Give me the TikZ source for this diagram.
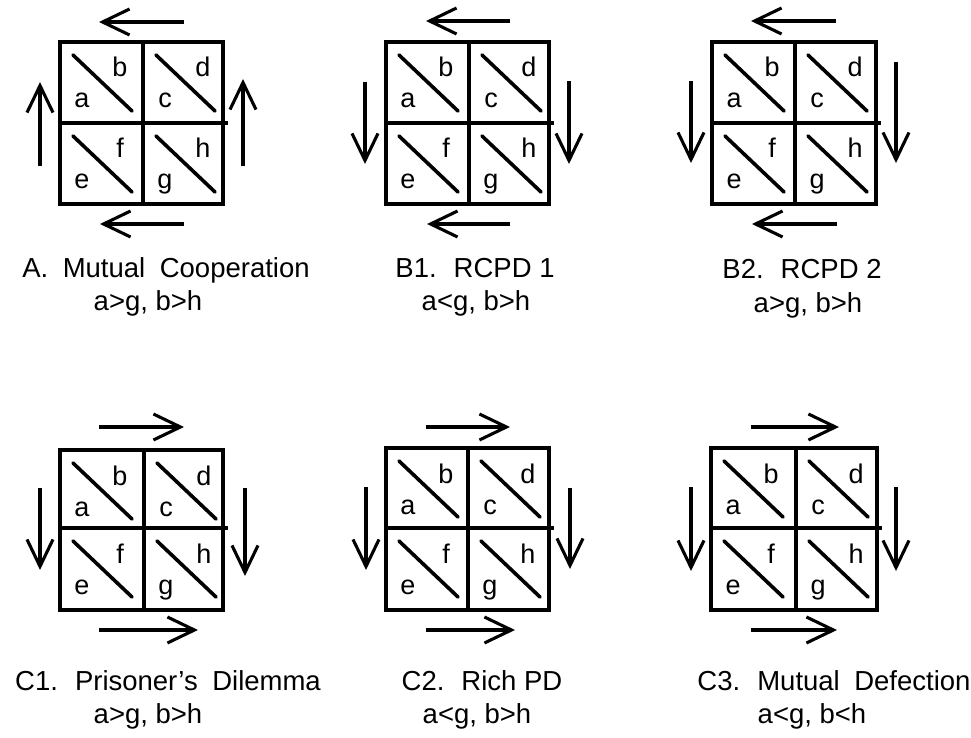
\documentclass[tikz,border=0pt]{standalone}
\usepackage{fontspec}
\setmainfont{Liberation Sans}
\usetikzlibrary{arrows.meta,calc}
\tikzset{
  grid/.style={line width=3.2pt, line cap=rect},
  diag/.style={line width=3.6pt, line cap=round},
  arr/.style={line width=3.1pt, -{Straight Barb[length=27pt,width=26pt]}},
  lbl/.style={anchor=base, inner sep=0pt, font=\fontsize{27}{27}\selectfont},
  captext/.style={anchor=base, inner sep=0pt, font=\fontsize{27.5}{30}\selectfont},
}
\newcommand{\gap}{\hspace{0.25em}}
% #1 prefix, #2 x, #3 y, #4 low label, #5 high label
\newcommand{\celldiag}[5]{%
  \draw[diag] ({#2+13},{#3+13}) -- ({#2+72},{#3+69});
  \node[lbl] (#1-#4) at ({#2+22},{#3+66}) {#4};
  \node[lbl] (#1-#5) at ({#2+60},{#3+35}) {#5};
}
% #1 prefix, #2 left, #3 top, #4 midx, #5 midy, #6 right, #7 bottom
\newcommand{\gamepanel}[7]{%
  \draw[grid] (#2,#3) rectangle (#6,#7);
  \draw[grid] (#4,#3) -- (#4,#7);
  \draw[grid] (#2,#5) -- ({#6+3},#5);
  \celldiag{#1}{#2}{#3}{a}{b}
  \celldiag{#1}{#4}{#3}{c}{d}
  \celldiag{#1}{#2}{#5}{e}{f}
  \celldiag{#1}{#4}{#5}{g}{h}
}
\begin{document}
\begin{tikzpicture}[x=1pt,y=-1pt]
\useasboundingbox (0,0) rectangle (971,738);
\fill[white] (0,0) rectangle (971,738);

% ---------- A ----------
\gamepanel{A}{60}{42}{143}{123}{223}{204}
\coordinate (A-t1) at (184,22); \coordinate (A-t2) at (99,22);
\coordinate (A-b1) at (184,224); \coordinate (A-b2) at (100,224);
\coordinate (A-l1) at (40,166); \coordinate (A-l2) at (40,82);
\coordinate (A-r1) at (243,166); \coordinate (A-r2) at (243,79);
\draw[arr] (A-t1) -- (A-t2);
\draw[arr] (A-b1) -- (A-b2);
\draw[arr] (A-l1) -- (A-l2);
\draw[arr] (A-r1) -- (A-r2);
\node[captext] (A-cap) at (166,277) {A.\gap{} Mutual\gap{} Cooperation};
\node[captext] (A-cond) at (148,310) {a>g, b>h};

% ---------- B1 ----------
\gamepanel{B1}{386}{42}{469}{123}{549}{204}
\coordinate (B1-t1) at (510,21); \coordinate (B1-t2) at (426,21);
\coordinate (B1-b1) at (510,224); \coordinate (B1-b2) at (427,224);
\coordinate (B1-l1) at (365,82); \coordinate (B1-l2) at (365,164);
\coordinate (B1-r1) at (569,81); \coordinate (B1-r2) at (569,164);
\draw[arr] (B1-t1) -- (B1-t2);
\draw[arr] (B1-b1) -- (B1-b2);
\draw[arr] (B1-l1) -- (B1-l2);
\draw[arr] (B1-r1) -- (B1-r2);
\node[captext] (B1-cap) at (475,277) {B1.\gap{} RCPD 1};
\node[captext] (B1-cond) at (476,310) {a<g, b>h};

% ---------- B2 ----------
\gamepanel{B2}{712}{42}{795}{123}{876}{204}
\coordinate (B2-t1) at (836,21); \coordinate (B2-t2) at (751,21);
\coordinate (B2-b1) at (837,224); \coordinate (B2-b2) at (752,224);
\coordinate (B2-l1) at (691,81); \coordinate (B2-l2) at (691,163);
\coordinate (B2-r1) at (896,62); \coordinate (B2-r2) at (896,163);
\draw[arr] (B2-t1) -- (B2-t2);
\draw[arr] (B2-b1) -- (B2-b2);
\draw[arr] (B2-l1) -- (B2-l2);
\draw[arr] (B2-r1) -- (B2-r2);
\node[captext] (B2-cap) at (802,278) {B2.\gap{} RCPD 2};
\node[captext] (B2-cond) at (808,312) {a>g, b>h};

% ---------- C1 ----------
\gamepanel{C1}{60}{450}{144}{528}{223}{610}
\coordinate (C1-t1) at (99,427); \coordinate (C1-t2) at (184,427);
\coordinate (C1-b1) at (99,630); \coordinate (C1-b2) at (198,630);
\coordinate (C1-l1) at (40,488); \coordinate (C1-l2) at (40,570);
\coordinate (C1-r1) at (245,488); \coordinate (C1-r2) at (245,576);
\draw[arr] (C1-t1) -- (C1-t2);
\draw[arr] (C1-b1) -- (C1-b2);
\draw[arr] (C1-l1) -- (C1-l2);
\draw[arr] (C1-r1) -- (C1-r2);
\node[captext] (C1-cap) at (168,690) {C1.\gap{} Prisoner's\gap{} Dilemma};
\node[captext] (C1-cond) at (148,723) {a>g, b>h};

% ---------- C2 ----------
\gamepanel{C2}{386}{448}{468}{528}{549}{610}
\coordinate (C2-t1) at (426,427); \coordinate (C2-t2) at (510,427);
\coordinate (C2-b1) at (426,630); \coordinate (C2-b2) at (515,630);
\coordinate (C2-l1) at (366,487); \coordinate (C2-l2) at (366,570);
\coordinate (C2-r1) at (570,488); \coordinate (C2-r2) at (570,569);
\draw[arr] (C2-t1) -- (C2-t2);
\draw[arr] (C2-b1) -- (C2-b2);
\draw[arr] (C2-l1) -- (C2-l2);
\draw[arr] (C2-r1) -- (C2-r2);
\node[captext] (C2-cap) at (482,690) {C2.\gap{} Rich PD};
\node[captext] (C2-cond) at (477,723) {a<g, b>h};

% ---------- C3 ----------
\gamepanel{C3}{711}{448}{796}{528}{877}{610}
\coordinate (C3-t1) at (751,427); \coordinate (C3-t2) at (839,427);
\coordinate (C3-b1) at (751,630); \coordinate (C3-b2) at (837,630);
\coordinate (C3-l1) at (691,487); \coordinate (C3-l2) at (691,571);
\coordinate (C3-r1) at (896,487); \coordinate (C3-r2) at (896,571);
\draw[arr] (C3-t1) -- (C3-t2);
\draw[arr] (C3-b1) -- (C3-b2);
\draw[arr] (C3-l1) -- (C3-l2);
\draw[arr] (C3-r1) -- (C3-r2);
\node[captext] (C3-cap) at (834,690) {C3.\gap{} Mutual\gap{} Defection};
\node[captext] (C3-cond) at (812,723) {a<g, b<h};
\end{tikzpicture}
\end{document}
